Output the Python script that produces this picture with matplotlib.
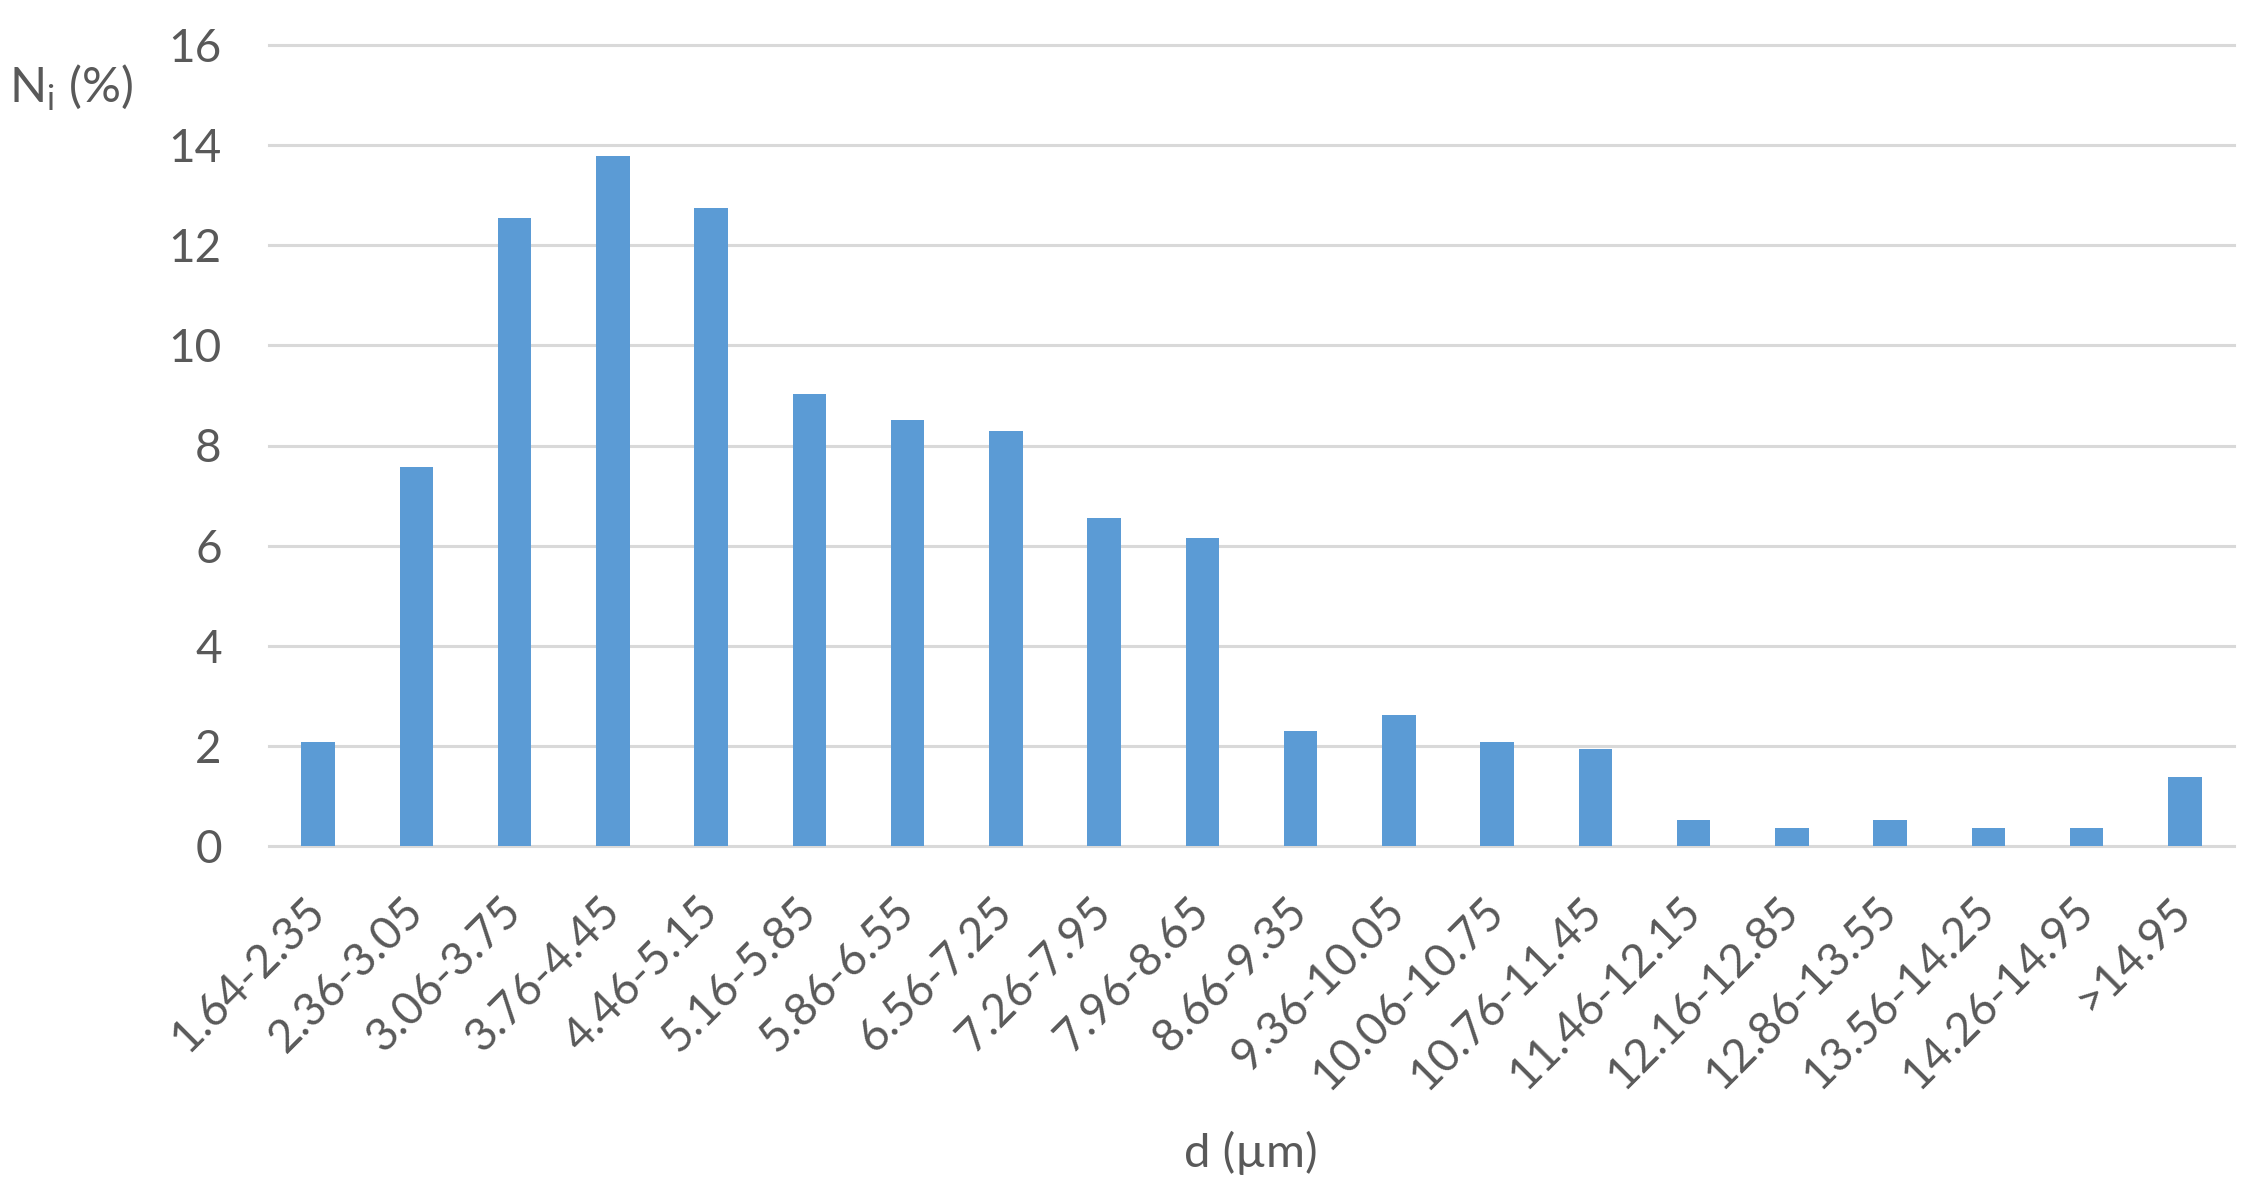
import matplotlib.pyplot as plt

plt.rcParams['font.family'] = ['Lato', 'DejaVu Sans']

# size classes (µm) and number fraction
classes = ["1.64-2.35", "2.36-3.05", "3.06-3.75", "3.76-4.45", "4.46-5.15",
           "5.16-5.85", "5.86-6.55", "6.56-7.25", "7.26-7.95", "7.96-8.65",
           "8.66-9.35", "9.36-10.05", "10.06-10.75", "10.76-11.45", "11.46-12.15",
           "12.16-12.85", "12.86-13.55", "13.56-14.25", "14.26-14.95", ">14.95"]
ni = [2.08, 7.57, 12.54, 13.79, 12.75, 9.03, 8.50, 8.29, 6.56, 6.16,
      2.29, 2.62, 2.08, 1.93, 0.52, 0.35, 0.52, 0.35, 0.35, 1.38]
yticks = [0, 2, 4, 6, 8, 10, 12, 14, 16]

txt = "#595959"

fig = plt.figure(figsize=(22.59, 12), dpi=100)
ax = fig.add_axes([0.1191, 0.295, 0.8698, 0.6675])

x = range(len(classes))
ax.bar(x, ni, width=0.34, color="#5b9bd5", zorder=3)

ax.set_xlim(-0.5, len(classes) - 0.5)
ax.set_ylim(0, 16)
ax.set_yticks(yticks)
ax.set_xticks(list(x))
ax.set_xticklabels(classes, rotation=45, ha="right", va="center",
                   rotation_mode="anchor")

ax.yaxis.grid(True, color="#d9d9d9", linewidth=2.2)
ax.set_axisbelow(True)
for ln in ax.get_ygridlines():
    ln.set_clip_on(False)

for s in ax.spines.values():
    s.set_visible(False)

ax.tick_params(axis="both", length=0, labelsize=33, colors=txt)
ax.tick_params(axis="y", pad=34)
ax.tick_params(axis="x", pad=42)

fig.text(0.004, 0.927, r"N$_\mathregular{i}$ (%)", fontsize=35, color=txt,
         ha="left", va="center")
fig.text(0.5535, 0.039, "d (µm)", fontsize=34, color=txt, ha="center", va="center")

fig.savefig("out.png", dpi=100)
